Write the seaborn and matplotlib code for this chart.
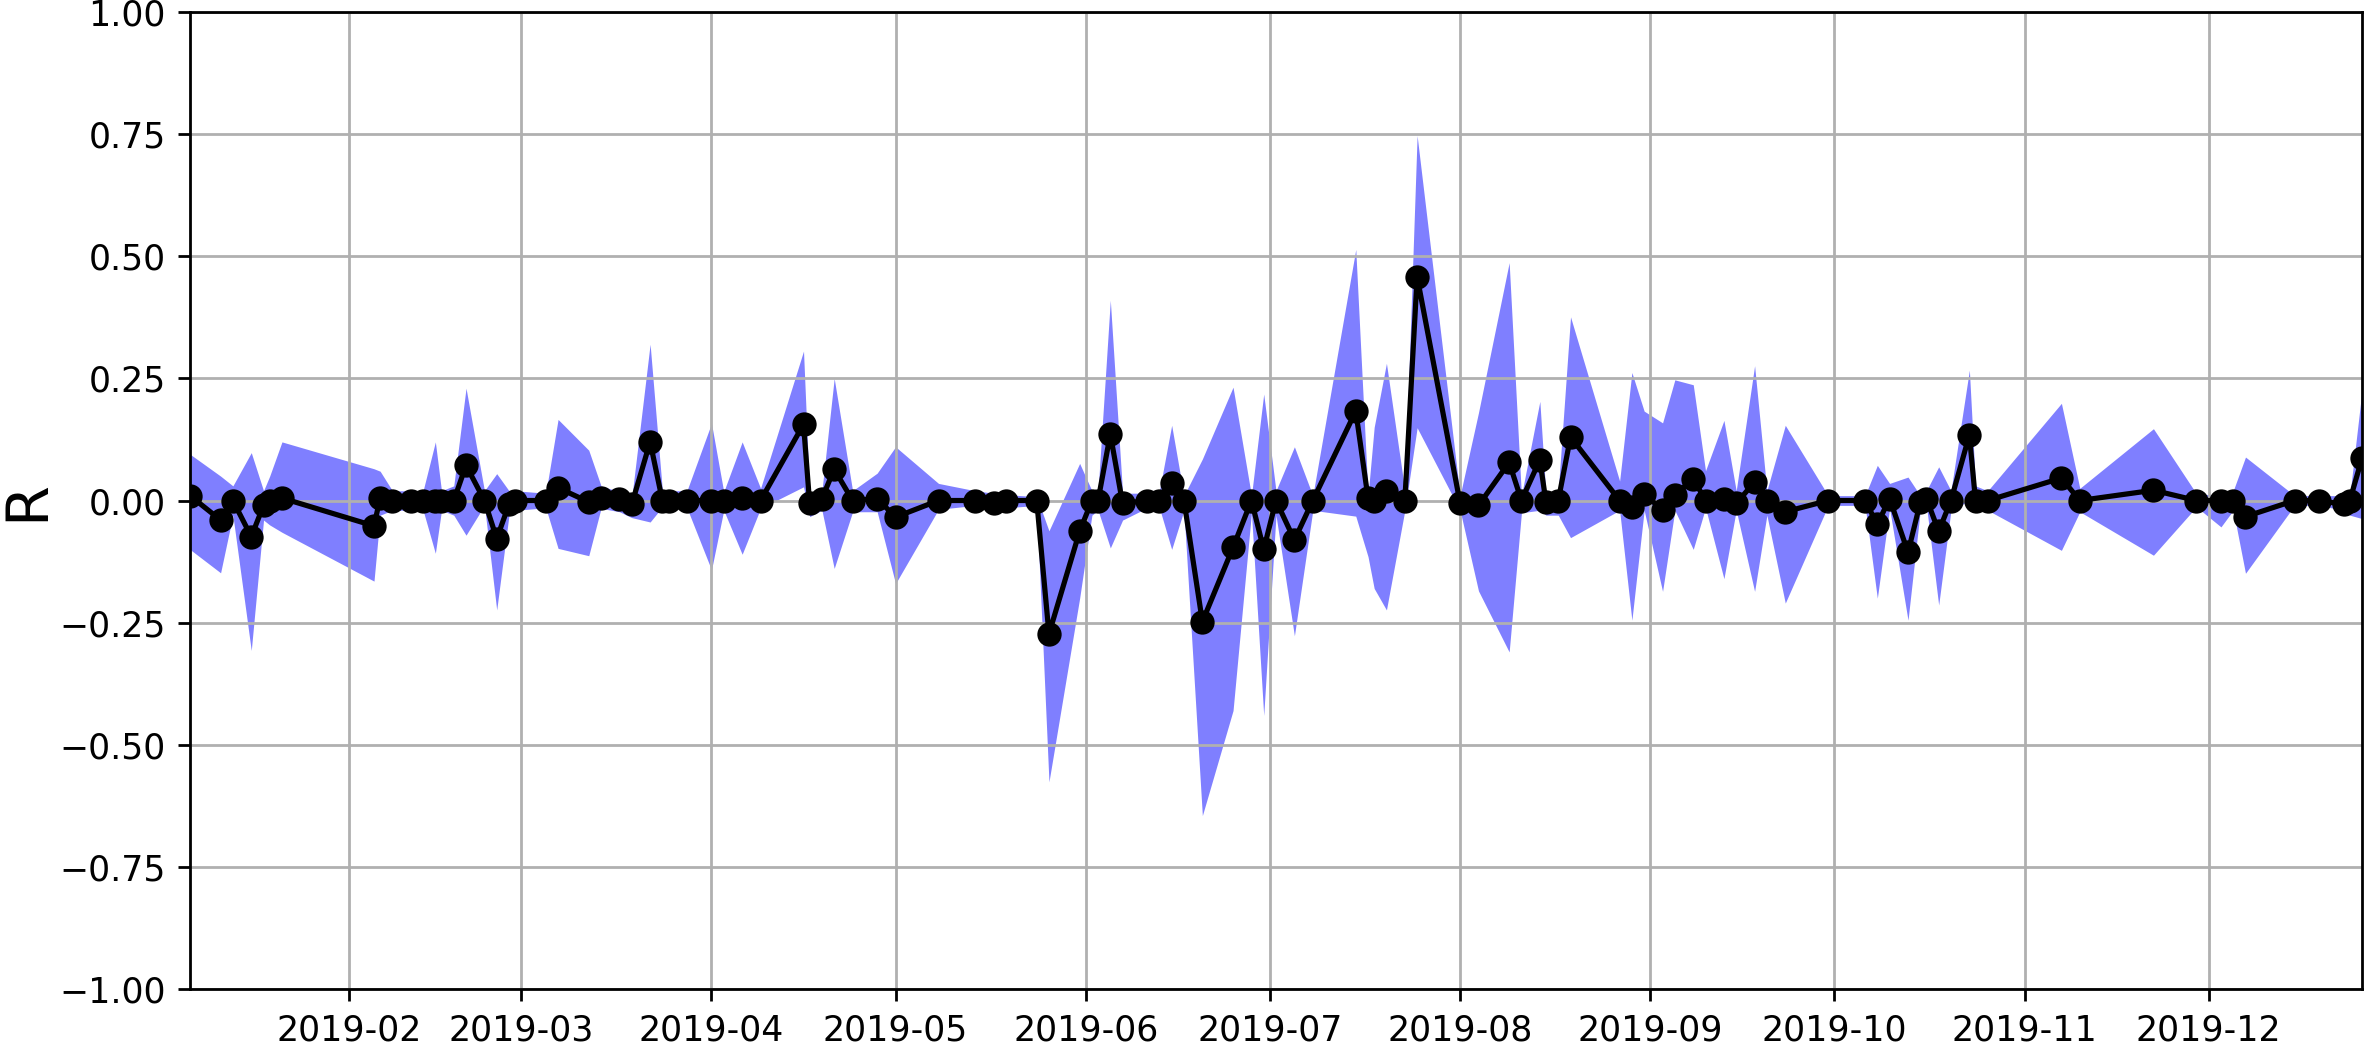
import pandas as pd
import matplotlib
matplotlib.use("Agg")
import matplotlib.pyplot as plt
import seaborn as sns

# daily R with its band
dates = [
    "2019-01-06", "2019-01-11", "2019-01-13", "2019-01-16", "2019-01-18", "2019-01-19", "2019-01-21",
    "2019-02-05", "2019-02-06", "2019-02-08", "2019-02-11", "2019-02-13", "2019-02-15", "2019-02-16",
    "2019-02-18", "2019-02-20", "2019-02-23", "2019-02-25", "2019-02-27", "2019-02-28",
    "2019-03-05", "2019-03-07", "2019-03-12", "2019-03-14", "2019-03-17", "2019-03-19", "2019-03-22",
    "2019-03-24", "2019-03-25", "2019-03-28",
    "2019-04-01", "2019-04-03", "2019-04-06", "2019-04-09", "2019-04-16", "2019-04-17", "2019-04-19",
    "2019-04-21", "2019-04-24", "2019-04-28",
    "2019-05-01", "2019-05-08", "2019-05-14", "2019-05-17", "2019-05-19", "2019-05-24", "2019-05-26",
    "2019-05-31",
    "2019-06-02", "2019-06-03", "2019-06-05", "2019-06-07", "2019-06-11", "2019-06-13", "2019-06-15",
    "2019-06-17", "2019-06-20", "2019-06-25", "2019-06-28", "2019-06-30",
    "2019-07-02", "2019-07-05", "2019-07-08", "2019-07-15", "2019-07-17", "2019-07-18", "2019-07-20",
    "2019-07-23", "2019-07-25",
    "2019-08-01", "2019-08-04", "2019-08-09", "2019-08-11", "2019-08-14", "2019-08-15", "2019-08-17",
    "2019-08-19", "2019-08-27", "2019-08-29", "2019-08-31",
    "2019-09-03", "2019-09-05", "2019-09-08", "2019-09-10", "2019-09-13", "2019-09-15", "2019-09-18",
    "2019-09-20", "2019-09-23", "2019-09-30",
    "2019-10-06", "2019-10-08", "2019-10-10", "2019-10-13", "2019-10-15", "2019-10-16", "2019-10-18",
    "2019-10-20", "2019-10-23", "2019-10-24", "2019-10-26",
    "2019-11-07", "2019-11-10", "2019-11-22", "2019-11-29",
    "2019-12-03", "2019-12-05", "2019-12-07", "2019-12-15", "2019-12-19", "2019-12-23", "2019-12-24",
    "2019-12-26",
]

r_values = [
    0.010, -0.040, 0.000, -0.074, -0.010, 0.000, 0.005,
    -0.052, 0.005, 0.000, 0.000, 0.000, 0.000, 0.000,
    0.000, 0.072, 0.000, -0.078, -0.008, 0.000,
    0.000, 0.026, -0.003, 0.006, 0.003, -0.008, 0.120,
    0.000, 0.000, 0.000,
    0.000, 0.000, 0.005, 0.000, 0.156, -0.006, 0.004,
    0.064, 0.000, 0.004,
    -0.034, 0.000, 0.000, -0.006, 0.000, 0.000, -0.273,
    -0.063,
    0.000, 0.000, 0.136, -0.006, 0.000, 0.000, 0.036,
    0.000, -0.248, -0.096, 0.000, -0.100,
    0.000, -0.081, 0.000, 0.183, 0.005, 0.000, 0.020,
    0.000, 0.458,
    -0.005, -0.010, 0.078, 0.000, 0.083, -0.003, 0.000,
    0.130, 0.000, -0.013, 0.014,
    -0.020, 0.011, 0.045, 0.000, 0.004, -0.006, 0.038,
    0.000, -0.023, 0.000,
    0.000, -0.049, 0.004, -0.106, -0.004, 0.004, -0.063,
    0.000, 0.134, 0.000, 0.000,
    0.046, 0.000, 0.021, 0.000,
    0.000, 0.000, -0.033, 0.000, 0.000, -0.008, 0.000,
    0.087,
]

r_lower = [
    -0.100, -0.148, -0.030, -0.307, -0.040, -0.050, -0.065,
    -0.165, -0.030, -0.020, -0.020, -0.020, -0.108, -0.020,
    -0.030, -0.071, -0.010, -0.224, -0.030, -0.020,
    -0.015, -0.098, -0.113, -0.016, -0.023, -0.035, -0.044,
    -0.013, -0.013, -0.015,
    -0.142, -0.020, -0.110, -0.016, 0.028, -0.033, -0.020,
    -0.139, -0.023, -0.023,
    -0.170, -0.018, -0.010, -0.020, -0.015, -0.010, -0.576,
    -0.200,
    -0.030, -0.020, -0.097, -0.040, -0.015, -0.015, -0.100,
    -0.020, -0.645, -0.430, -0.025, -0.440,
    -0.030, -0.277, -0.020, -0.032, -0.115, -0.180, -0.224,
    -0.020, 0.149,
    -0.020, -0.185, -0.310, -0.025, -0.020, -0.030, -0.030,
    -0.076, -0.020, -0.245, -0.020,
    -0.186, -0.020, -0.100, -0.015, -0.160, -0.020, -0.186,
    -0.030, -0.210, -0.010,
    -0.010, -0.200, -0.016, -0.245, -0.020, -0.010, -0.214,
    -0.020, 0.000, -0.020, -0.020,
    -0.102, -0.023, -0.112, -0.013,
    -0.054, -0.020, -0.149, -0.010, -0.010, -0.020, -0.030,
    -0.037,
]

r_upper = [
    0.095, 0.050, 0.030, 0.098, 0.020, 0.050, 0.120,
    0.065, 0.060, 0.020, 0.020, 0.020, 0.120, 0.020,
    0.030, 0.230, 0.020, 0.055, 0.020, 0.020,
    0.015, 0.166, 0.103, 0.030, 0.018, 0.005, 0.320,
    0.020, 0.020, 0.020,
    0.158, 0.018, 0.120, 0.025, 0.306, 0.010, 0.020,
    0.250, 0.020, 0.056,
    0.110, 0.035, 0.020, 0.015, 0.012, 0.008, -0.062,
    0.076,
    0.020, 0.020, 0.410, 0.015, 0.015, 0.020, 0.154,
    0.010, 0.085, 0.232, 0.010, 0.218,
    0.020, 0.110, 0.010, 0.514, 0.010, 0.150, 0.281,
    0.020, 0.747,
    0.010, 0.180, 0.487, 0.010, 0.203, 0.010, 0.020,
    0.376, 0.040, 0.262, 0.183,
    0.159, 0.247, 0.237, 0.061, 0.164, 0.020, 0.276,
    0.020, 0.154, 0.010,
    0.010, 0.072, 0.035, 0.048, 0.010, 0.020, 0.069,
    0.020, 0.267, 0.030, 0.020,
    0.199, 0.025, 0.147, 0.014,
    0.010, 0.020, 0.089, 0.010, 0.010, 0.010, 0.010,
    0.227,
]

df = pd.DataFrame({
    "date": pd.to_datetime(dates),
    "R": r_values,
    "lo": r_lower,
    "hi": r_upper,
})

fig = plt.figure(figsize=(9.472, 4.184), dpi=250)
ax = fig.add_axes([0.0802, 0.0545, 0.9173, 0.934])

# band first, then the line with dots on top
ax.fill_between(df["date"], df["lo"], df["hi"], color="blue", alpha=0.5, linewidth=0)
sns.lineplot(data=df, x="date", y="R", ax=ax, color="black", marker="o",
             markersize=6, markeredgecolor="black", markeredgewidth=1, linewidth=1.5)

ax.set_xlim(df["date"].iloc[0], df["date"].iloc[-1])
ax.set_ylim(-1, 1)
ax.set_yticks([-1, -0.75, -0.5, -0.25, 0, 0.25, 0.5, 0.75, 1])
ax.set_xlabel("")
ax.set_ylabel("R", fontsize=17, labelpad=1)
ax.grid(True)

fig.savefig("out.png", dpi=250)
